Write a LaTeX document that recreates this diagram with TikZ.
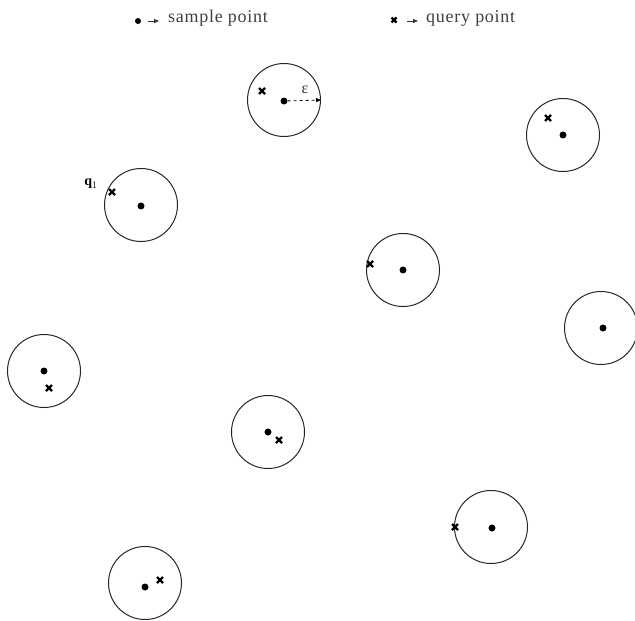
\documentclass[tikz,border=0pt]{standalone}
\usepackage{fontspec}
\setmainfont{Liberation Serif}
\usetikzlibrary{arrows.meta}
\begin{document}
\begin{tikzpicture}[x=1pt,y=-1pt,
  ball/.style={circle,draw=black!85,line width=1pt,minimum size=73pt,inner sep=0pt},
  spt/.style={circle,fill=black,inner sep=0pt,minimum size=7pt},
  qpt/.style={inner sep=0pt,minimum size=9pt,path picture={
      \draw[line width=2.2pt] ([shift={(1.5pt,1.5pt)}]path picture bounding box.south west) -- ([shift={(-1.5pt,-1.5pt)}]path picture bounding box.north east);
      \draw[line width=2.2pt] ([shift={(1.5pt,-1.5pt)}]path picture bounding box.north west) -- ([shift={(-1.5pt,1.5pt)}]path picture bounding box.south east);}},
  lbl/.style={font=\fontsize{18}{20}\selectfont\addfontfeatures{LetterSpace=4},inner sep=0pt,anchor=west},
  legarrow/.style={-{Triangle[length=5pt,width=4pt]},line width=0.8pt,black!80}]
\useasboundingbox (0,0) rectangle (635,621);
% legend
\node[spt,minimum size=6pt] (ls) at (138,21) {};
\coordinate (la1) at (148,21); \coordinate (la2) at (159,21);
\draw[legarrow] (la1) -- (la2);
\node[lbl,text=black!75] (lt1) at (168,18) {sample point};
\node[qpt,minimum size=8pt] (lq) at (394,20) {};
\coordinate (lb1) at (407,21); \coordinate (lb2) at (418,21);
\draw[legarrow] (lb1) -- (lb2);
\node[lbl,text=black!75] (lt2) at (426,18) {query point};
% circles, samples, queries
\node[ball] (c1) at (284,100) {};
\node[spt] (s1) at (284,101) {};
\node[qpt] (q1) at (262,91) {};
\draw[dashed,line width=0.8pt,-{Triangle[length=5pt,width=4pt]}] (s1) -- (c1.east);
\node[font=\fontsize{16}{18}\selectfont,inner sep=0pt,text=black!80] (eps) at (305,90) {ε};

\node[ball] (c2) at (563,135) {};
\node[spt] (s2) at (563,135) {};
\node[qpt] (q2) at (548,118) {};

\node[ball] (c3) at (141,205) {};
\node[spt] (s3) at (141,206) {};
\node[qpt] (q3) at (112,192) {};
\node[font=\fontsize{14}{16}\selectfont\bfseries,inner sep=0pt] (ql) at (91,184) {q$_{1}$};

\node[ball] (c4) at (403,270) {};
\node[spt] (s4) at (403,270) {};
\node[qpt] (q4) at (370,264) {};

\node[ball] (c5) at (601,328) {};
\node[spt] (s5) at (603,328) {};

\node[ball] (c6) at (44,371) {};
\node[spt] (s6) at (44,371) {};
\node[qpt] (q6) at (49,388) {};

\node[ball] (c7) at (268,432) {};
\node[spt] (s7) at (268,432) {};
\node[qpt] (q7) at (279,440) {};

\node[ball] (c8) at (491,527) {};
\node[spt] (s8) at (492,528) {};
\node[qpt] (q8) at (455,527) {};

\node[ball] (c9) at (145,583) {};
\node[spt] (s9) at (145,587) {};
\node[qpt] (q9) at (160,580) {};
\end{tikzpicture}
\end{document}
